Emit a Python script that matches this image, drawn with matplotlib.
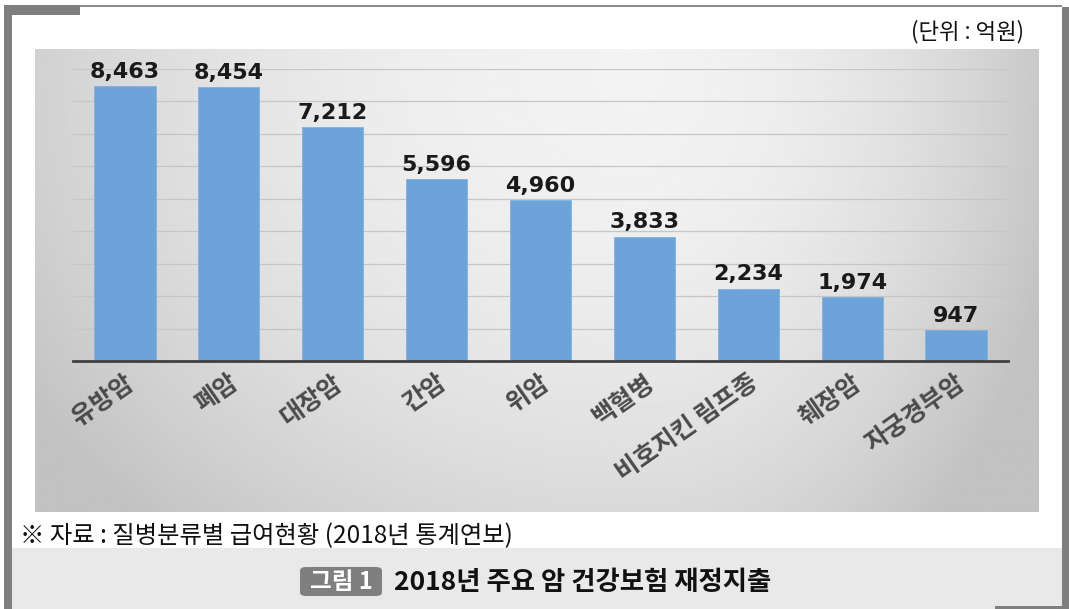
import matplotlib
matplotlib.use('Agg')
import matplotlib.pyplot as plt
from matplotlib.patches import Rectangle, FancyBboxPatch
import numpy as np

plt.rcParams['font.family'] = ['Noto Sans CJK KR', 'DejaVu Sans']

# 데이터 (단위: 억원)
categories = ['유방암', '폐암', '대장암', '간암', '위암', '백혈병', '비호지킨 림프종', '췌장암', '자궁경부암']
values = [8463, 8454, 7212, 5596, 4960, 3833, 2234, 1974, 947]
grid_ticks = [1000, 2000, 3000, 4000, 5000, 6000, 7000, 8000, 9000]

unit_text = '(단위 : 억원)'
source_text = '※ 자료 : 질병분류별 급여현황 (2018년 통계연보)'
fig_label = '그림 1'
title_text = '2018년 주요 암 건강보험 재정지출'

W, H = 1069, 609
fig = plt.figure(figsize=(W / 100, H / 100), dpi=100)
fig.patch.set_facecolor('white')


def px_rect(x, y, w, h, color, z=0):
    # 픽셀 좌표(위쪽 원점)로 사각형 그리기
    r = Rectangle((x / W, 1 - (y + h) / H), w / W, h / H, transform=fig.transFigure,
                  facecolor=color, edgecolor='none', zorder=z)
    fig.add_artist(r)
    return r


# 바깥 틀
px_rect(80, 5, 982, 1.5, '#8c8c8c')
px_rect(4, 5, 76, 10, '#7f7f7f')
px_rect(4, 5, 8, 604, '#7f7f7f')
px_rect(1062, 7, 7, 602, '#7f7f7f')
px_rect(12, 548, 1050, 61, '#e9e9e9')
px_rect(995, 606, 67, 3, '#7f7f7f')

# 차트 배경 (그라데이션)
bg = fig.add_axes([35 / W, 1 - 512 / H, (1039 - 35) / W, (512 - 49) / H])
gh, gw = 200, 400
yy, xx = np.mgrid[0:gh, 0:gw]
u = xx / (gw - 1)
v = yy / (gh - 1)
cx = 0.6
nx = np.where(u < cx, (u - cx) / 0.6, (u - cx) / 0.36)
ny = (v - 0.05) / 1.1
d = np.sqrt(nx ** 2 + ny ** 2)
shade = np.clip(0.95 - 0.13 * d ** 2, 0.76, 1.0)
bg.imshow(shade, cmap='gray', vmin=0, vmax=1, aspect='auto', interpolation='bilinear')
bg.set_axis_off()

# 막대 차트
ax = fig.add_axes([73 / W, 1 - 361 / H, (1008 - 73) / W, (361 - 69) / H])
ax.set_facecolor('none')
x = np.arange(len(categories))
bars = ax.bar(x, values, width=0.59, color='#6ca4d9', edgecolor='#7fb2e0', linewidth=0.6, zorder=3)
ax.set_xlim(-0.5, len(categories) - 0.5)
ax.set_ylim(0, 9000)
ax.set_yticks(grid_ticks)
ax.yaxis.grid(True, color='#c6c6c6', linewidth=0.9, zorder=0)
ax.tick_params(axis='y', length=0, labelleft=False)
ax.tick_params(axis='x', length=0, pad=7)
for s in ['top', 'right', 'left']:
    ax.spines[s].set_visible(False)
ax.spines['bottom'].set_color('#404040')
ax.spines['bottom'].set_linewidth(2)
ax.spines['bottom'].set_zorder(4)

ax.set_xticks(x)
ax.set_xticklabels(categories, rotation=35, ha='right', va='top', rotation_mode='anchor',
                   fontsize=18, color='#4a4a4a', fontweight='bold')

for rect, val in zip(bars, values):
    ax.annotate(f'{val:,}', (rect.get_x() + rect.get_width() / 2, val),
                xytext=(0, 3), textcoords='offset points', ha='center', va='bottom',
                fontsize=16, fontweight='bold', family='DejaVu Sans', color='#1a1a1a', zorder=5)

# 텍스트
fig.text(1024 / W, 1 - 32 / H, unit_text, ha='right', va='center', fontsize=16, color='#111111')
fig.text(20 / W, 1 - 536 / H, source_text, ha='left', va='center', fontsize=17.5, color='#111111')

box = FancyBboxPatch((300 / W, 1 - 596 / H), 82 / W, 29 / H, transform=fig.transFigure,
                     boxstyle='round,pad=0,rounding_size=0.006', facecolor='#7f7f7f',
                     edgecolor='none', zorder=2)
fig.add_artist(box)
fig.text(341 / W, 1 - 582 / H, fig_label, ha='center', va='center', fontsize=17,
         fontweight='bold', color='white', zorder=3)
fig.text(394 / W, 1 - 582 / H, title_text, ha='left', va='center', fontsize=19,
         fontweight='bold', color='#111111')

plt.savefig('out.png', dpi=100)
